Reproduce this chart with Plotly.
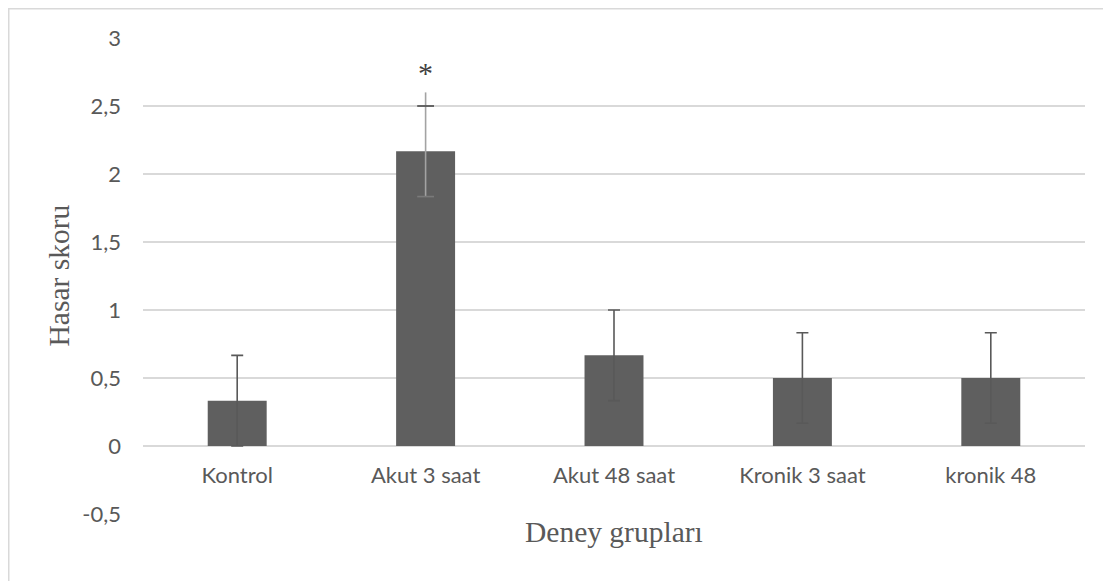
import plotly.graph_objects as go

# ---- data ----
categories = ["Kontrol", "Akut 3 saat", "Akut 48 saat", "Kronik 3 saat", "kronik 48"]
means = [0.333, 2.167, 0.667, 0.5, 0.5]
errors = [0.333, 0.333, 0.333, 0.333, 0.333]
akut_line_top = 2.6          # extended (cap-less) error line on "Akut 3 saat"
star_label = "*"
star_value = 2.75
y_tickvals = [-0.5, 0, 0.5, 1, 1.5, 2, 2.5, 3]
y_ticktext = ["-0,5", "0", "0,5", "1", "1,5", "2", "2,5", "3"]
x_title = "Deney grupları"
y_title = "Hasar skoru"

BAR = "#5f5f5f"
ERR = "#595959"
ERR_LIGHT = "#a3a3a3"
GRID = "#d9d9d9"
TXT = "#595959"

# figure geometry (page body has an 8px offset)
W, H = 1103, 573
L, T, PW, PH = 135, 30, 942, 476
R, B = W - L - PW, H - T - PH

akut_i = categories.index("Akut 3 saat")
other_idx = [i for i in range(len(categories)) if i != akut_i]

fig = go.Figure()

fig.add_trace(go.Bar(
    x=categories, y=means, marker=dict(color=BAR, line=dict(width=0)),
    hoverinfo="skip", showlegend=False,
))

# dark error bars (all but Akut 3 saat)
fig.add_trace(go.Scatter(
    x=[categories[i] for i in other_idx], y=[means[i] for i in other_idx],
    mode="markers", marker=dict(size=1, opacity=0),
    error_y=dict(type="data", array=[errors[i] for i in other_idx],
                 color=ERR, thickness=1.6, width=6),
    hoverinfo="skip", showlegend=False,
))

# Akut 3 saat: light line extending beyond the cap
fig.add_trace(go.Scatter(
    x=[categories[akut_i]], y=[means[akut_i]],
    mode="markers", marker=dict(size=1, opacity=0),
    error_y=dict(type="data", symmetric=False,
                 array=[akut_line_top - means[akut_i]],
                 arrayminus=[errors[akut_i]],
                 color=ERR_LIGHT, thickness=1.6, width=0),
    hoverinfo="skip", showlegend=False,
))
# Akut caps
fig.add_trace(go.Scatter(
    x=[categories[akut_i]], y=[means[akut_i] + errors[akut_i]],
    mode="markers",
    marker=dict(symbol="line-ew", size=12, line=dict(color=ERR, width=1.8)),
    hoverinfo="skip", showlegend=False,
))
fig.add_trace(go.Scatter(
    x=[categories[akut_i]], y=[means[akut_i] - errors[akut_i]],
    mode="markers",
    marker=dict(symbol="line-ew", size=12, line=dict(color="#7a7a7a", width=1.6)),
    hoverinfo="skip", showlegend=False,
))

fig.update_layout(
    width=W, height=H,
    margin=dict(l=L, r=R, t=T, b=B, pad=0),
    paper_bgcolor="white", plot_bgcolor="white",
    bargap=0.687,
    separators=",.",
    font=dict(family="Lato", size=22, color=TXT),
    xaxis=dict(
        type="category", anchor="free", position=0.5 / 3.5,
        showline=False, showgrid=False, zeroline=False, ticks="",
        tickfont=dict(family="Lato", size=22, color=TXT),
        ticklabelstandoff=14,
    ),
    yaxis=dict(
        range=[-0.5, 3], tickvals=y_tickvals, ticktext=y_ticktext,
        showgrid=True, gridcolor=GRID, gridwidth=1.5,
        zeroline=False, showline=False, ticks="",
        tickfont=dict(family="Lato", size=22, color=TXT),
        ticklabelstandoff=21,
    ),
    shapes=[dict(
        type="rect", xref="paper", yref="paper",
        x0=(0.75 - L) / PW, x1=(W + 20 - L) / PW,
        y0=(T + PH - (H + 20)) / PH, y1=(T + PH - 0.75) / PH,
        line=dict(color=GRID, width=1.5), fillcolor="rgba(0,0,0,0)",
        layer="below",
    )],
    annotations=[
        dict(text=y_title, xref="paper", yref="paper",
             x=(50.5 - L) / PW, y=0.5, textangle=-90, showarrow=False,
             xanchor="center", yanchor="middle",
             font=dict(family="Liberation Serif", size=29.5, color=TXT)),
        dict(text=x_title, xref="paper", yref="paper",
             x=0.5, y=(T + PH - 524) / PH, showarrow=False,
             xanchor="center", yanchor="middle",
             font=dict(family="Liberation Serif", size=29.5, color=TXT)),
        dict(text=star_label, x=categories[akut_i], y=star_value,
             xref="x", yref="y", showarrow=False,
             xanchor="center", yanchor="middle",
             font=dict(family="Liberation Serif", size=30, color="#404040")),
    ],
)

fig.write_html("out.html")
